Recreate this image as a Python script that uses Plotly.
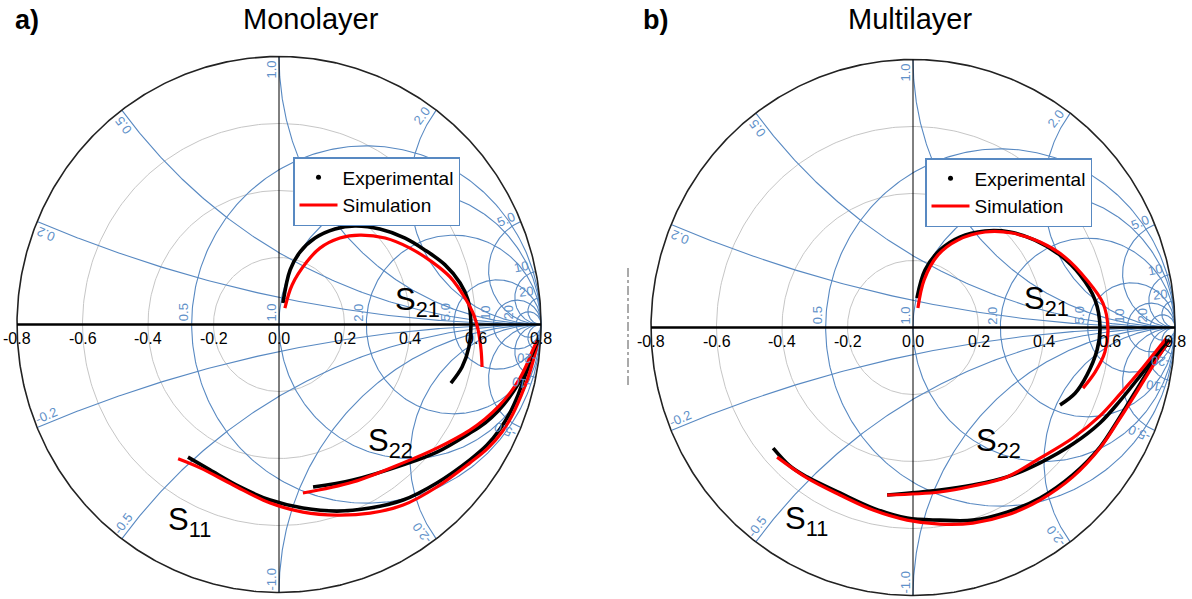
import numpy as np
import plotly.graph_objects as go

FONT = "Liberation Sans, Arial, sans-serif"
GRID_BLUE = "#5889c2"
LABEL_BLUE = "#5f91c9"
RING_GRAY = "#c6c6c6"
EXP_COLOR = "black"
SIM_COLOR = "#ff0000"

# ---- Smith chart grid definition (outer circle drawn at 0.8 chart units) ----
SMITH_R = 0.8
GRAY_RADII = [0.2, 0.4, 0.6]
RES_VALUES = [0.5, 1.0, 2.0, 5.0, 10.0, 20.0]
RES_LABELS = ["0.5", "1.0", "2.0", "5.0", "10", "20"]
REACT_VALUES = [0.2, 0.5, 1.0, 2.0, 5.0, 10.0, 20.0]
REACT_LABELS = ["0.2", "0.5", "1.0", "2.0", "5.0", "10", "20"]
TICK_VALUES = [-0.8, -0.6, -0.4, -0.2, 0.0, 0.2, 0.4, 0.6, 0.8]
TICK_LABELS = ["-0.8", "-0.6", "-0.4", "-0.2", "0.0", "0.2", "0.4", "0.6", "0.8"]

# ---- Monolayer S-parameters (real, imaginary) ----
mono_s21_exp_re = [0.012, 0.034, 0.064, 0.110, 0.171, 0.232, 0.308, 0.385, 0.446, 0.507, 0.553, 0.577, 0.586, 0.580, 0.559, 0.525]
mono_s21_exp_im = [0.064, 0.163, 0.216, 0.258, 0.285, 0.294, 0.285, 0.258, 0.222, 0.178, 0.124, 0.073, 0.004, -0.067, -0.127, -0.175]
mono_s21_sim_re = [0.018, 0.040, 0.085, 0.125, 0.186, 0.247, 0.324, 0.400, 0.467, 0.522, 0.568, 0.595, 0.608, 0.617, 0.620]
mono_s21_sim_im = [0.049, 0.118, 0.187, 0.228, 0.258, 0.267, 0.258, 0.228, 0.187, 0.142, 0.079, 0.028, -0.016, -0.076, -0.127]

mono_s11_exp_re = [-0.278, -0.211, -0.119, -0.027, 0.073, 0.177, 0.278, 0.379, 0.482, 0.583, 0.635, 0.675, 0.705, 0.730, 0.751, 0.769, 0.788]
mono_s11_exp_im = [-0.396, -0.434, -0.485, -0.524, -0.548, -0.557, -0.548, -0.524, -0.473, -0.404, -0.360, -0.312, -0.264, -0.210, -0.154, -0.106, -0.055]
mono_s11_sim_re = [-0.308, -0.241, -0.140, -0.027, 0.073, 0.177, 0.278, 0.379, 0.482, 0.583, 0.638, 0.681, 0.714, 0.739, 0.760, 0.775, 0.788]
mono_s11_sim_im = [-0.401, -0.428, -0.479, -0.533, -0.560, -0.569, -0.563, -0.539, -0.485, -0.413, -0.369, -0.321, -0.267, -0.213, -0.160, -0.112, -0.061]

mono_s22_exp_re = [0.104, 0.226, 0.379, 0.482, 0.583, 0.629, 0.669, 0.702, 0.730, 0.754, 0.772, 0.791]
mono_s22_exp_im = [-0.485, -0.464, -0.419, -0.381, -0.324, -0.294, -0.258, -0.219, -0.178, -0.133, -0.091, -0.046]
mono_s22_sim_re = [0.073, 0.226, 0.379, 0.482, 0.583, 0.629, 0.672, 0.708, 0.736, 0.760, 0.775, 0.788]
mono_s22_sim_im = [-0.503, -0.470, -0.413, -0.369, -0.315, -0.282, -0.243, -0.201, -0.160, -0.112, -0.076, -0.049]

# ---- Multilayer S-parameters (real, imaginary) ----
multi_s21_exp_re = [0.012, 0.037, 0.082, 0.143, 0.220, 0.296, 0.372, 0.449, 0.510, 0.556, 0.571, 0.562, 0.531, 0.495, 0.449]
multi_s21_exp_im = [0.088, 0.172, 0.231, 0.270, 0.288, 0.285, 0.261, 0.216, 0.157, 0.082, 0.001, -0.067, -0.142, -0.196, -0.231]
multi_s21_sim_re = [0.015, 0.034, 0.076, 0.137, 0.220, 0.302, 0.388, 0.464, 0.531, 0.580, 0.595, 0.586, 0.556, 0.519]
multi_s21_sim_im = [0.058, 0.142, 0.216, 0.261, 0.285, 0.282, 0.255, 0.210, 0.142, 0.073, 0.001, -0.073, -0.133, -0.181]

multi_s11_exp_re = [-0.427, -0.376, -0.324, -0.223, -0.122, -0.018, 0.082, 0.183, 0.287, 0.388, 0.488, 0.571, 0.626, 0.678, 0.730, 0.785]
multi_s11_exp_im = [-0.360, -0.413, -0.446, -0.494, -0.539, -0.569, -0.575, -0.575, -0.551, -0.509, -0.440, -0.357, -0.276, -0.193, -0.112, -0.037]
multi_s11_sim_re = [-0.415, -0.324, -0.223, -0.122, -0.018, 0.082, 0.183, 0.287, 0.388, 0.488, 0.571, 0.629, 0.681, 0.730, 0.779]
multi_s11_sim_im = [-0.387, -0.449, -0.500, -0.545, -0.575, -0.587, -0.584, -0.560, -0.515, -0.446, -0.360, -0.276, -0.196, -0.118, -0.043]

multi_s22_exp_re = [-0.079, 0.082, 0.183, 0.287, 0.388, 0.488, 0.571, 0.632, 0.693, 0.748, 0.779]
multi_s22_exp_im = [-0.500, -0.485, -0.470, -0.446, -0.404, -0.348, -0.285, -0.219, -0.145, -0.076, -0.037]
multi_s22_sim_re = [-0.079, 0.082, 0.183, 0.287, 0.388, 0.488, 0.571, 0.632, 0.693, 0.745, 0.773]
multi_s22_sim_im = [-0.500, -0.491, -0.473, -0.446, -0.390, -0.330, -0.264, -0.199, -0.130, -0.067, -0.034]

# ---- Panel layout: pixel centre of each chart and pixel scale ----
W, H = 1192, 599
PX_X, PX_Y = 327.5, 335.0

panels = [
    dict(xa="x", ya="y", dom=[0.0, 0.5], cx=279.0, cy=324.5, legend="legend",
         legend_px=(293, 157), title="Monolayer", title_px=(311, 19), tag="a)", tag_px=(27, 20),
         curves=[(mono_s21_exp_re, mono_s21_exp_im, mono_s21_sim_re, mono_s21_sim_im),
                 (mono_s11_exp_re, mono_s11_exp_im, mono_s11_sim_re, mono_s11_sim_im),
                 (mono_s22_exp_re, mono_s22_exp_im, mono_s22_sim_re, mono_s22_sim_im)],
         slabels=[("21", 0.424, 0.067), ("11", -0.272, -0.590), ("22", 0.339, -0.354)]),
    dict(xa="x2", ya="y2", dom=[0.5, 1.0], cx=913.0, cy=327.5, legend="legend2",
         legend_px=(925, 158), title="Multilayer", title_px=(910, 19), tag="b)", tag_px=(655, 20),
         curves=[(multi_s21_exp_re, multi_s21_exp_im, multi_s21_sim_re, multi_s21_sim_im),
                 (multi_s11_exp_re, multi_s11_exp_im, multi_s11_sim_re, multi_s11_sim_im),
                 (multi_s22_exp_re, multi_s22_exp_im, multi_s22_sim_re, multi_s22_sim_im)],
         slabels=[("21", 0.409, 0.079), ("11", -0.324, -0.578), ("22", 0.260, -0.345)]),
]


def circle_xy(cx, cy, r, n=361):
    t = np.linspace(0, 2 * np.pi, n)
    return list(cx + r * np.cos(t)) + [None], list(cy + r * np.sin(t)) + [None]


def reactance_arc(x, n=600):
    r = np.concatenate([[0.0], np.logspace(-3, 3.5, n)])
    z = r + 1j * x
    g = SMITH_R * (z - 1) / (z + 1)
    return list(g.real) + [None], list(g.imag) + [None]


fig = go.Figure()
annotations = []
shapes = []
layout_axes = {}

for i, p in enumerate(panels):
    xa, ya = p["xa"], p["ya"]
    common = dict(xaxis=xa, yaxis=ya, hoverinfo="skip", showlegend=False)

    # gray magnitude rings
    gx, gy = [], []
    for rad in GRAY_RADII:
        a, b = circle_xy(0, 0, rad)
        gx += a
        gy += b
    fig.add_trace(go.Scatter(x=gx, y=gy, mode="lines", line=dict(color=RING_GRAY, width=1), **common))

    # constant-resistance circles and constant-reactance arcs
    bx, by = [], []
    for rv in RES_VALUES:
        a, b = circle_xy(SMITH_R * rv / (rv + 1), 0, SMITH_R / (rv + 1))
        bx += a
        by += b
    for xv in REACT_VALUES:
        for s in (1, -1):
            a, b = reactance_arc(s * xv)
            bx += a
            by += b
    fig.add_trace(go.Scatter(x=bx, y=by, mode="lines", line=dict(color=GRID_BLUE, width=1.1), **common))

    # outer boundary
    ox, oy = circle_xy(0, 0, SMITH_R, 721)
    fig.add_trace(go.Scatter(x=ox, y=oy, mode="lines", line=dict(color="#222222", width=1.6), **common))

    # real / imaginary axes
    fig.add_trace(go.Scatter(x=[0, 0], y=[-SMITH_R, SMITH_R], mode="lines",
                             line=dict(color="black", width=1), **common))
    fig.add_trace(go.Scatter(x=[TICK_VALUES[0], TICK_VALUES[-1]], y=[0, 0], mode="lines",
                             line=dict(color="black", width=2.6), **common))

    # measured and simulated traces
    for ex, ey, sx, sy in p["curves"]:
        fig.add_trace(go.Scatter(x=ex, y=ey, mode="lines", line=dict(color=EXP_COLOR, width=3.6, shape="spline", smoothing=1.0), **common))
        fig.add_trace(go.Scatter(x=sx, y=sy, mode="lines", line=dict(color=SIM_COLOR, width=3.2, shape="spline", smoothing=1.0), **common))

    # legend entries
    fig.add_trace(go.Scatter(x=[None], y=[None], mode="markers", name="Experimental",
                             marker=dict(color="black", size=5), xaxis=xa, yaxis=ya, legend=p["legend"]))
    fig.add_trace(go.Scatter(x=[None], y=[None], mode="lines", name="Simulation",
                             line=dict(color=SIM_COLOR, width=3), xaxis=xa, yaxis=ya, legend=p["legend"]))

    # tick labels along the real axis
    for tv, tl in zip(TICK_VALUES, TICK_LABELS):
        annotations.append(dict(x=tv, y=0, xref=xa, yref=ya, text=tl, showarrow=False, yshift=-14,
                                xanchor="center", yanchor="middle",
                                font=dict(family=FONT, size=16, color="black")))

    # resistance labels
    for rv, rl in zip(RES_VALUES, RES_LABELS):
        annotations.append(dict(x=SMITH_R * (rv - 1) / (rv + 1), y=0, xref=xa, yref=ya, text=rl,
                                showarrow=False, textangle=-90, xshift=-8, yshift=12,
                                xanchor="center", yanchor="middle",
                                font=dict(family=FONT, size=13, color=LABEL_BLUE)))

    # reactance labels on the rim
    for xv, xl in zip(REACT_VALUES, REACT_LABELS):
        for s in (1, -1):
            g = (1j * s * xv - 1) / (1j * s * xv + 1)
            th = np.angle(g)
            phi = th if s > 0 else th + np.pi
            a_in, b_off = 13.0, 8.0
            dx = -a_in * np.cos(th) + b_off * np.cos(phi + np.pi / 2)
            dy = -a_in * np.sin(th) + b_off * np.sin(phi + np.pi / 2)
            ang = -np.degrees(phi)
            ang = (ang + 180) % 360 - 180
            annotations.append(dict(x=SMITH_R * g.real, y=SMITH_R * g.imag, xref=xa, yref=ya,
                                    text=xl if s > 0 else "-" + xl, showarrow=False,
                                    textangle=ang, xshift=dx, yshift=dy,
                                    xanchor="center", yanchor="middle",
                                    font=dict(family=FONT, size=13, color=LABEL_BLUE)))

    # S-parameter names
    for sub, lx, ly in p["slabels"]:
        annotations.append(dict(x=lx, y=ly, xref=xa, yref=ya, text="S<sub>%s</sub>" % sub,
                                showarrow=False, xanchor="center", yanchor="middle",
                                font=dict(family=FONT, size=31, color="black")))

    # panel title and tag
    tx, ty = p["title_px"]
    annotations.append(dict(x=tx / W, y=1 - ty / H, xref="paper", yref="paper", text=p["title"],
                            showarrow=False, xanchor="center", yanchor="middle",
                            font=dict(family=FONT, size=29, color="black")))
    gx0, gy0 = p["tag_px"]
    annotations.append(dict(x=gx0 / W, y=1 - gy0 / H, xref="paper", yref="paper", text="<b>%s</b>" % p["tag"],
                            showarrow=False, xanchor="center", yanchor="middle",
                            font=dict(family=FONT, size=27, color="black")))

    # axis ranges so that both charts share one pixel scale
    x0 = p["dom"][0] * W
    x1 = p["dom"][1] * W
    sfx = "" if i == 0 else str(i + 1)
    layout_axes["xaxis" + sfx] = dict(domain=p["dom"], range=[(x0 - p["cx"]) / PX_X, (x1 - p["cx"]) / PX_X],
                                      visible=False, fixedrange=True, anchor=ya)
    layout_axes["yaxis" + sfx] = dict(domain=[0, 1], range=[(p["cy"] - H) / PX_Y, p["cy"] / PX_Y],
                                      visible=False, fixedrange=True, anchor=xa)
    lx, ly = p["legend_px"]
    layout_axes[p["legend"]] = dict(x=lx / W, y=1 - ly / H, xanchor="left", yanchor="top",
                                    bordercolor=GRID_BLUE, borderwidth=1.5, bgcolor="white",
                                    font=dict(family=FONT, size=19, color="black"),
                                    tracegroupgap=0, itemwidth=38)

# small dash-dot mark left of the second chart
shapes.append(dict(type="line", xref="paper", yref="paper", x0=628 / W, x1=628 / W,
                   y0=1 - 268 / H, y1=1 - 385 / H, line=dict(color="#555555", width=1, dash="dashdot")))

fig.update_layout(width=W, height=H, margin=dict(l=0, r=0, t=0, b=0),
                  paper_bgcolor="white", plot_bgcolor="white", showlegend=True,
                  annotations=annotations, shapes=shapes, **layout_axes)

fig.write_html("out.html")
